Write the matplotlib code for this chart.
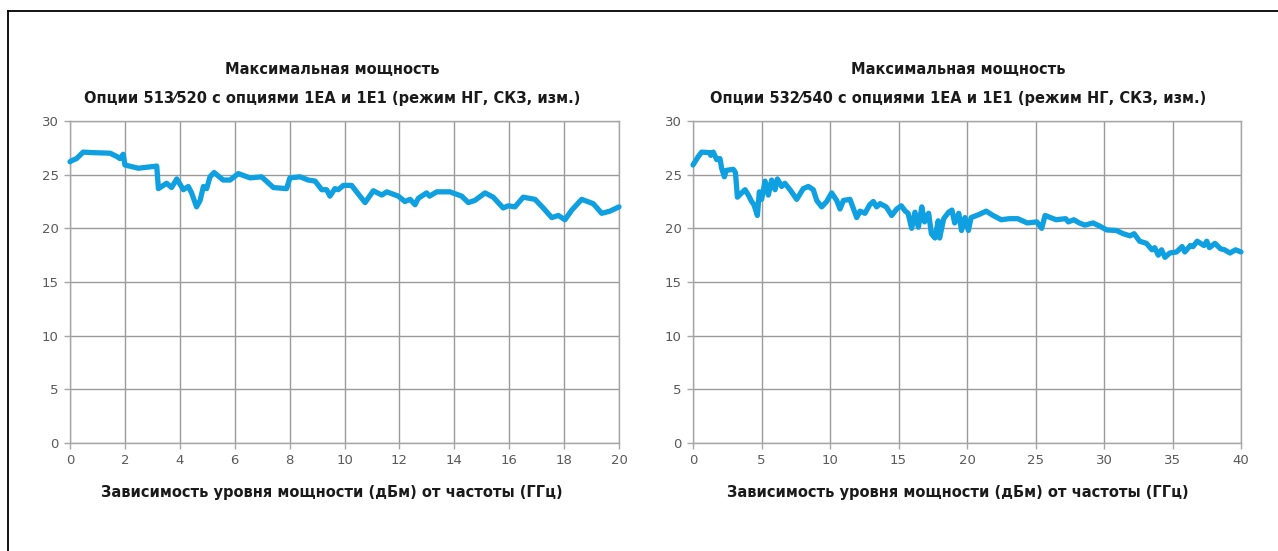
import matplotlib
matplotlib.use("Agg")
import matplotlib.pyplot as plt
from matplotlib.lines import Line2D

# ---- data ----
title_top = "Максимальная мощность"
left_subtitle = "Опции 513⁄520 с опциями 1ЕА и 1Е1 (режим НГ, СКЗ, изм.)"
right_subtitle = "Опции 532⁄540 с опциями 1ЕА и 1Е1 (режим НГ, СКЗ, изм.)"
xlabel_text = "Зависимость уровня мощности (дБм) от частоты (ГГц)"

left_xticks = [0, 2, 4, 6, 8, 10, 12, 14, 16, 18, 20]
right_xticks = [0, 5, 10, 15, 20, 25, 30, 35, 40]
yticks = [0, 5, 10, 15, 20, 25, 30]

left_f = [0.0, 0.06, 0.24, 0.48, 0.85, 1.46, 1.7, 1.82, 1.94, 2.0, 2.49, 3.16, 3.22, 3.52, 3.7,
          3.89, 4.13, 4.31, 4.43, 4.61, 4.74, 4.86, 4.98, 5.1, 5.25, 5.58, 5.83, 6.13, 6.56, 6.98,
          7.41, 7.89, 8.01, 8.38, 8.68, 8.93, 9.17, 9.35, 9.47, 9.65, 9.77, 9.96, 10.26, 10.44,
          10.75, 11.05, 11.36, 11.54, 11.96, 12.2, 12.39, 12.57, 12.69, 12.99, 13.1, 13.36, 13.84,
          14.27, 14.51, 14.75, 15.12, 15.42, 15.78, 15.97, 16.21, 16.51, 16.94, 17.24, 17.55,
          17.79, 18.03, 18.28, 18.64, 19.06, 19.37, 19.67, 20.0]
left_p = [26.2, 26.3, 26.5, 27.1, 27.05, 27.0, 26.7, 26.5, 26.9, 25.9, 25.6, 25.8, 23.7, 24.2, 23.8,
          24.6, 23.6, 23.9, 23.3, 22.0, 22.6, 23.9, 23.7, 24.8, 25.2, 24.5, 24.5, 25.1, 24.7, 24.8,
          23.8, 23.7, 24.7, 24.8, 24.5, 24.4, 23.6, 23.6, 23.0, 23.7, 23.6, 24.0, 24.0, 23.4,
          22.4, 23.5, 23.1, 23.4, 23.0, 22.5, 22.7, 22.2, 22.8, 23.3, 23.0, 23.4, 23.4,
          23.0, 22.4, 22.6, 23.3, 22.9, 21.9, 22.1, 22.0, 22.9, 22.7, 21.9, 21.0,
          21.2, 20.8, 21.7, 22.7, 22.3, 21.4, 21.6, 22.0]

right_f = [0.0, 0.39, 0.63, 1.24, 1.3, 1.48, 1.73, 1.97, 2.09, 2.29, 2.43, 2.94, 3.1, 3.24, 3.55,
           3.8, 4.04, 4.28, 4.45, 4.7, 4.84, 5.01, 5.26, 5.5, 5.74, 5.99, 6.16, 6.47, 6.7, 7.08,
           7.57, 8.05, 8.42, 8.78, 9.03, 9.39, 9.76, 10.12, 10.49, 10.73, 10.98, 11.46, 11.95,
           12.19, 12.55, 12.9, 13.16, 13.4, 13.65, 14.1, 14.5, 14.87, 15.2, 15.5, 15.7, 15.96,
           16.2, 16.45, 16.7, 16.9, 17.2, 17.4, 17.66, 17.9, 18.0, 18.3, 18.66, 18.9, 19.1, 19.4,
           19.6, 19.85, 20.1, 20.3, 20.9, 21.4, 21.9, 22.5, 23.1, 23.7, 24.4, 25.1, 25.45, 25.7,
           26.5, 27.2, 27.4, 27.8, 28.2, 28.6, 29.2, 29.7, 30.2, 30.9, 31.4, 31.9, 32.2, 32.6,
           33.1, 33.5, 33.7, 33.96, 34.2, 34.45, 34.8, 35.3, 35.7, 35.9, 36.3, 36.5, 36.8, 37.3,
           37.5, 37.7, 38.1, 38.5, 38.8, 39.2, 39.6, 40.0]
right_p = [25.9, 26.7, 27.1, 27.05, 26.8, 27.1, 26.4, 26.5, 25.6, 24.8, 25.4, 25.5, 25.2, 22.9, 23.3,
           23.6, 23.1, 22.5, 22.2, 21.2, 23.4, 22.7, 24.4, 23.1, 24.5, 23.6, 24.6, 23.9, 24.2, 23.6,
           22.7, 23.7, 23.9, 23.6, 22.6, 22.0, 22.5, 23.3, 22.6, 21.8, 22.6, 22.7, 21.0,
           21.6, 21.4, 22.2, 22.5, 22.0, 22.3, 22.0, 21.2, 21.8, 22.1, 21.6, 21.4, 20.0,
           21.5, 20.1, 22.0, 20.6, 21.4, 19.5, 19.1, 20.7, 19.1, 20.9, 21.5, 21.7, 20.5, 21.4,
           19.8, 21.0, 19.8, 21.0, 21.3, 21.6, 21.2, 20.8, 20.9, 20.9, 20.5, 20.6, 20.0, 21.2,
           20.8, 20.9, 20.6, 20.8, 20.5, 20.3, 20.5, 20.2, 19.85, 19.8, 19.5, 19.3, 19.5, 18.8,
           18.6, 18.0, 18.2, 17.5, 18.0, 17.3, 17.7, 17.8, 18.3, 17.8, 18.4, 18.3, 18.8, 18.4,
           18.8, 18.2, 18.6, 18.1, 18.0, 17.7, 18.0, 17.8]

# ---- style ----
W, H = 1278, 551
LINE_COLOR = "#0EA0E0"
GRID_COLOR = "#9a9a9a"
SPINE_COLOR = "#a6a6a6"
TICK_COLOR = "#595959"

fig = plt.figure(figsize=(W / 100, H / 100), dpi=100)
fig.patch.set_facecolor("white")

def frac_box(x0, x1, y0, y1):
    return [x0 / W, 1 - y1 / H, (x1 - x0) / W, (y1 - y0) / H]

title_kw = dict(fontsize=11.7, fontweight="bold", family="DejaVu Sans", fontstretch="condensed",
                color="#1a1a1a", ha="center", va="center")

def make_panel(box, f, p, xticks, xmax, subtitle, cx):
    ax = fig.add_axes(box)
    ax.plot(f, p, color=LINE_COLOR, lw=3.8, solid_joinstyle="round", solid_capstyle="round",
            zorder=3, clip_on=False)
    ax.set_xlim(0, xmax)
    ax.set_ylim(0, 30)
    ax.set_xticks(xticks)
    ax.set_yticks(yticks)
    ax.grid(True, color=GRID_COLOR, lw=1.0)
    ax.set_axisbelow(True)
    for s in ax.spines.values():
        s.set_color(SPINE_COLOR)
        s.set_linewidth(1.0)
    ax.tick_params(axis="both", direction="out", length=4, width=1.0, color=SPINE_COLOR,
                   labelcolor=TICK_COLOR, labelsize=9.5, pad=4)
    fig.text(cx / W, 1 - 69 / H, title_top, **title_kw)
    fig.text(cx / W, 1 - 98 / H, subtitle, **title_kw)
    fig.text(cx / W, 1 - 493 / H, xlabel_text, **title_kw)
    return ax

make_panel(frac_box(70, 619, 121, 443), left_f, left_p, left_xticks, 20, left_subtitle, 332)
make_panel(frac_box(693, 1241, 121, 443), right_f, right_p, right_xticks, 40, right_subtitle, 958)

# outer frame (top and left edges)
fig.add_artist(Line2D([7.5 / W, 1.0], [1 - 11 / H, 1 - 11 / H], color="black", lw=1.3,
                      transform=fig.transFigure))
fig.add_artist(Line2D([7.5 / W, 7.5 / W], [1 - 11 / H, 0.0], color="black", lw=1.3,
                      transform=fig.transFigure))

fig.savefig("out.png", dpi=100, facecolor="white")
